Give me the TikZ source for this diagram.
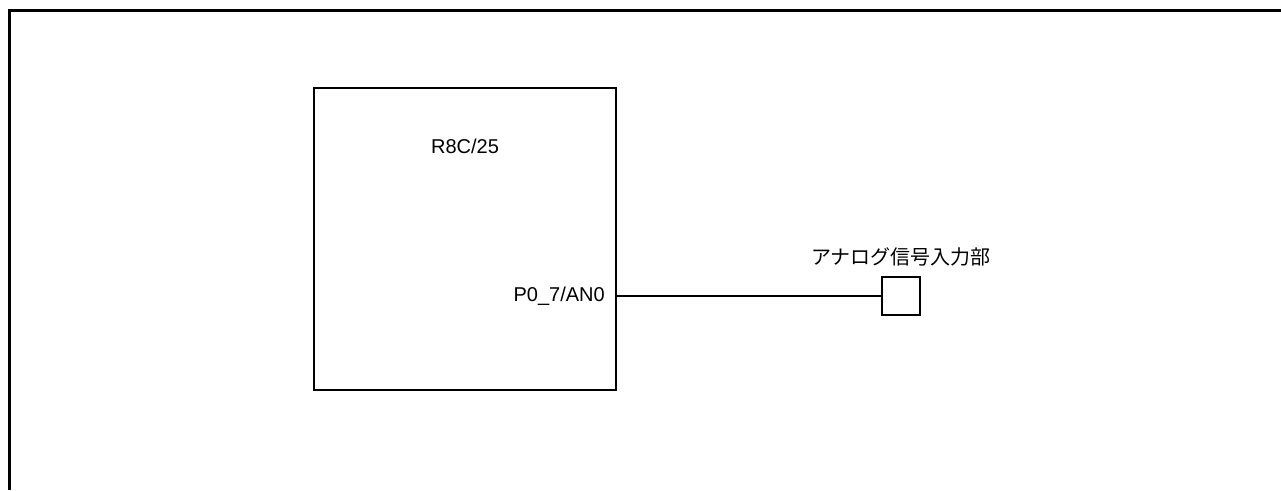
\documentclass[tikz,border=0pt]{standalone}
\usepackage{fontspec}
\setmainfont{Liberation Sans}
\newfontfamily\jpfont{Noto Sans CJK JP}
\usetikzlibrary{positioning, calc}

\begin{document}
\begin{tikzpicture}[x=1pt,y=-1pt,
  box/.style={draw,line width=1.3pt,inner sep=0pt},
  lbl/.style={font=\fontsize{20}{24}\selectfont,inner sep=0pt}]
\useasboundingbox (0,0) rectangle (1281,490);
% frame
\draw[line width=3pt] (1281,10.5) -- (9.5,10.5) -- (9.5,490);
% microcontroller
\node[box,minimum width=302pt,minimum height=302pt] (mcu) at (465,239) {};
\node[lbl] (name) at (465,146) {R8C/25};
\node[lbl,anchor=east] (pin) at (605,296) {P0\_7/AN0};
% analog input
\node[box,minimum size=38pt] (term) at (901,296) {};
\node[lbl,font=\jpfont\fontsize{20}{24}\selectfont,above=10pt of term] (termlbl) {アナログ信号入力部};
\draw[line width=1.3pt] (mcu.east |- pin) -- (term.west);
\end{tikzpicture}
\end{document}
